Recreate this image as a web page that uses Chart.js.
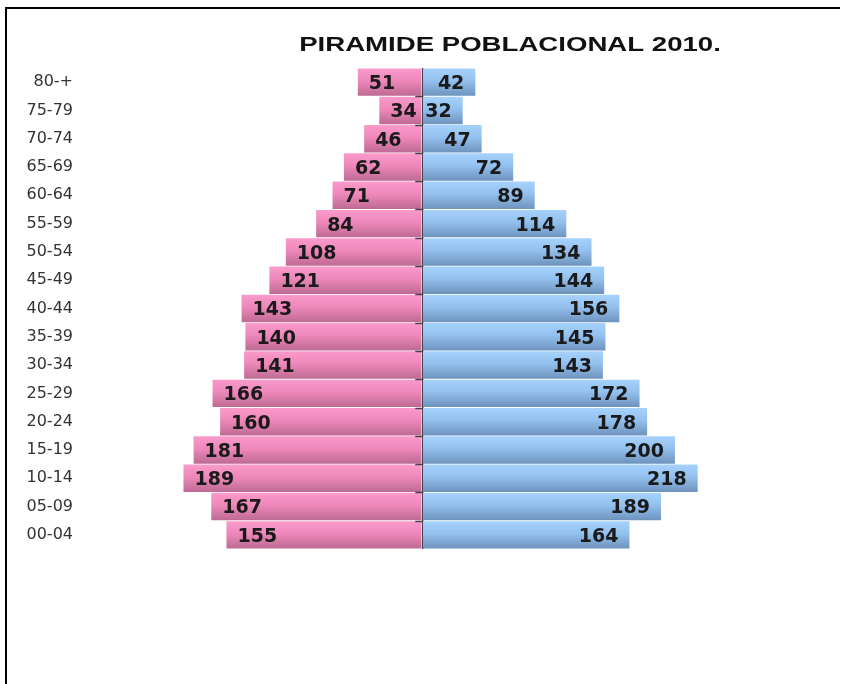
<!DOCTYPE html>
<html>
<head>
<meta charset="utf-8">
<script src="https://cdn.jsdelivr.net/npm/chart.js@4/dist/chart.umd.min.js"></script>
<style>
  html, body { margin: 0; padding: 0; background: #fff; overflow: hidden; }
  #piramide { display: block; }
</style>
</head>
<body>
<canvas id="piramide" width="843" height="684"></canvas>
<script>
// Datos de la piramide (de arriba hacia abajo)
const grupos = ['80-+', '75-79', '70-74', '65-69', '60-64', '55-59', '50-54', '45-49', '40-44',
                '35-39', '30-34', '25-29', '20-24', '15-19', '10-14', '05-09', '00-04'];
const mujeres = [51, 34, 46, 62, 71, 84, 108, 121, 143, 140, 141, 166, 160, 181, 189, 167, 155];
const hombres = [42, 32, 47, 72, 89, 114, 134, 144, 156, 145, 143, 172, 178, 200, 218, 189, 164];
const titulo = 'PIRAMIDE POBLACIONAL 2010.';

const BAR_PCT = 0.97;

// degradado vertical por barra, como en Excel
function barGradient(light, mid, dark) {
    return function (ctx) {
        const chart = ctx.chart;
        const y = chart.scales.y;
        if (!chart.chartArea || !y || ctx.type !== 'data') return mid;
        const row = (y.bottom - y.top) / grupos.length;
        const c = y.getPixelForValue(ctx.dataIndex);
        if (!isFinite(c) || !isFinite(row)) return mid;
        const h = row * BAR_PCT / 2;
        const g = chart.ctx.createLinearGradient(0, c - h, 0, c + h);
        g.addColorStop(0, light);
        g.addColorStop(0.45, mid);
        g.addColorStop(1, dark);
        return g;
    };
}

// marco, etiquetas de valor y titulo
const etiquetas = {
    id: 'etiquetas',
    beforeDraw(chart) {
        const ctx = chart.ctx;
        ctx.save();
        ctx.fillStyle = '#000';
        ctx.fillRect(5, 7, chart.width - 8, 2);   // linea superior
        ctx.fillRect(5, 7, 2, chart.height - 7);  // linea izquierda
        ctx.restore();
    },
    afterDatasetsDraw(chart) {
        const ctx = chart.ctx;
        const x = chart.scales.x;
        const y = chart.scales.y;
        const x0 = x.getPixelForValue(0);
        ctx.save();

        // pequeñas marcas del eje en el lado izquierdo
        ctx.strokeStyle = '#4a4050';
        ctx.lineWidth = 1.5;
        const row = (y.bottom - y.top) / grupos.length;
        for (let i = 1; i < grupos.length; i++) {
            const yy = Math.round(y.top + i * row) + 0.5;
            ctx.beginPath();
            ctx.moveTo(x0 - 7, yy);
            ctx.lineTo(x0, yy);
            ctx.stroke();
        }

        ctx.font = 'bold 19px "DejaVu Sans"';
        ctx.fillStyle = '#1a1a1a';
        ctx.textBaseline = 'middle';
        chart.getDatasetMeta(0).data.forEach((bar, i) => {
            ctx.textAlign = 'left';
            ctx.fillText(String(mujeres[i]), bar.x + 11, bar.y + 2);
        });
        chart.getDatasetMeta(1).data.forEach((bar, i) => {
            ctx.textAlign = 'right';
            ctx.fillText(String(hombres[i]), bar.x - 11, bar.y + 2);
        });
        ctx.restore();
    },
    afterDraw(chart) {
        const ctx = chart.ctx;
        ctx.save();
        ctx.font = 'bold 20px "Liberation Sans"';
        ctx.fillStyle = '#111';
        ctx.textAlign = 'center';
        ctx.textBaseline = 'middle';
        ctx.translate(510, 45);
        ctx.scale(1.38, 1);
        ctx.fillText(titulo, 0, 0);
        ctx.restore();
    }
};

new Chart(document.getElementById('piramide'), {
    type: 'bar',
    data: {
        labels: grupos,
        datasets: [{
            label: 'Mujeres',
            data: mujeres.map(v => -v),
            backgroundColor: barGradient('#fa9acb', '#ee88ba', '#bd6a93'),
            borderWidth: 0,
            barPercentage: BAR_PCT,
            categoryPercentage: 1
        }, {
            label: 'Hombres',
            data: hombres,
            backgroundColor: barGradient('#a6d2fc', '#93c0ee', '#6e93bd'),
            borderWidth: 0,
            barPercentage: BAR_PCT,
            categoryPercentage: 1
        }]
    },
    options: {
        indexAxis: 'y',
        responsive: false,
        animation: false,
        layout: { padding: { left: 10, right: 43, top: 68, bottom: 135 } },
        plugins: {
            legend: { display: false },
            title: { display: false },
            tooltip: { enabled: false }
        },
        scales: {
            x: {
                stacked: true,
                min: -263,
                max: 299,
                z: 1,
                ticks: { display: false, stepSize: 50 },
                border: { display: false },
                grid: {
                    drawTicks: false,
                    lineWidth: 1.5,
                    color: ctx => ctx.tick && ctx.tick.value === 0 ? '#4a4050' : 'rgba(0,0,0,0)'
                }
            },
            y: {
                stacked: true,
                afterFit: scale => { scale.width = 80; },
                border: { display: false },
                grid: { display: false, drawTicks: false },
                ticks: {
                    padding: 17,
                    color: '#333',
                    font: { family: '"DejaVu Sans"', size: 16 }
                }
            }
        }
    },
    plugins: [etiquetas]
});
</script>
</body>
</html>
